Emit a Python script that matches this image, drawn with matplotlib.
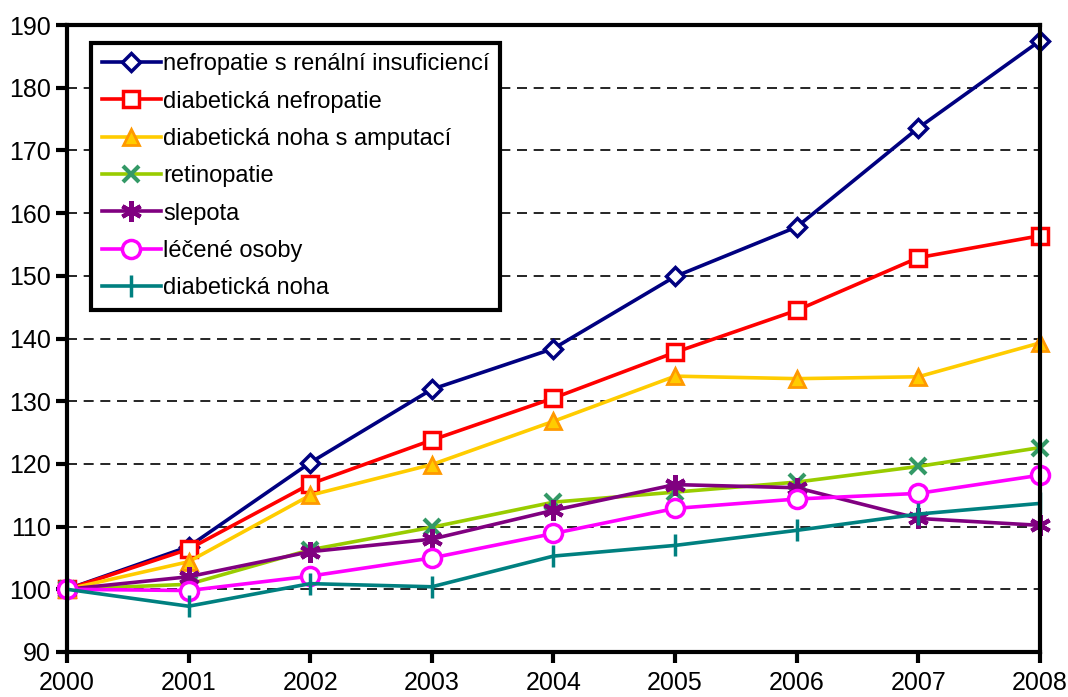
import matplotlib.pyplot as plt

plt.rcParams['font.family'] = ['Liberation Sans', 'DejaVu Sans']

years = [2000, 2001, 2002, 2003, 2004, 2005, 2006, 2007, 2008]

nefro_ren = [100, 106.8, 120.2, 131.9, 138.4, 149.9, 157.8, 173.6, 187.5]
nefro = [100, 106.4, 116.8, 123.8, 130.5, 137.8, 144.5, 152.9, 156.4]
noha_amp = [100, 104.4, 115.0, 119.9, 126.8, 134.0, 133.6, 133.9, 139.3]
retino = [100, 100.8, 106.3, 109.9, 113.9, 115.5, 117.1, 119.6, 122.6]
slepota = [100, 102.0, 106.0, 108.0, 112.6, 116.7, 116.2, 111.3, 110.2]
lecene = [100, 99.8, 102.1, 105.0, 108.9, 112.9, 114.4, 115.3, 118.2]
noha = [100, 97.3, 100.9, 100.4, 105.3, 107.0, 109.4, 112.0, 113.7]

labels = ["nefropatie s renální insuficiencí", "diabetická nefropatie",
          "diabetická noha s amputací", "retinopatie", "slepota",
          "léčené osoby", "diabetická noha"]

fig = plt.figure(figsize=(10.68, 6.97), dpi=100)
ax = fig.add_axes([0.0627, 0.0646, 0.9111, 0.8994])

lw = 2.6
ax.plot(years, nefro_ren, color='#000080', lw=lw, marker='D', ms=9,
        mfc='white', mec='#000080', mew=2.5, label=labels[0])
ax.plot(years, nefro, color='#FF0000', lw=lw, marker='s', ms=11,
        mfc='white', mec='#FF0000', mew=2.5, label=labels[1])
ax.plot(years, noha_amp, color='#FFCC00', lw=lw, marker='^', ms=12,
        mfc='#FFCC00', mec='#FF9900', mew=2, label=labels[2])
ax.plot(years, retino, color='#99CC00', lw=lw, marker='x', ms=12,
        mec='#339966', mew=3, label=labels[3])
ax.plot(years, slepota, color='#800080', lw=lw, marker=(6, 2, 0), ms=15,
        mec='#800080', mew=3, label=labels[4])
ax.plot(years, lecene, color='#FF00FF', lw=lw, marker='o', ms=13,
        mfc='white', mec='#FF00FF', mew=2.5, label=labels[5])
ax.plot(years, noha, color='#008080', lw=lw, marker='|', ms=16,
        mec='#008080', mew=2.5, label=labels[6])

ax.set_xlim(2000, 2008)
ax.set_ylim(90, 190)
ax.set_xticks(years)
ax.set_yticks(range(90, 191, 10))
ax.tick_params(labelsize=18, width=3, length=8, direction='out')
ax.tick_params(axis='x', pad=6)

for y in range(100, 190, 10):
    ax.axhline(y, color='black', lw=1.2, ls=(0, (6, 4)), zorder=0)

for s in ax.spines.values():
    s.set_linewidth(3)

for line in ax.get_lines():
    line.set_clip_on(False)

leg = ax.legend(loc='upper left', bbox_to_anchor=(0.025, 0.972), fontsize=17,
                frameon=True, fancybox=False, edgecolor='black',
                handlelength=2.5, borderpad=0.45, labelspacing=0.65,
                handletextpad=0.1, borderaxespad=0)
leg.get_frame().set_linewidth(3)
leg.get_frame().set_alpha(1)

fig.savefig("out.png", dpi=100)
